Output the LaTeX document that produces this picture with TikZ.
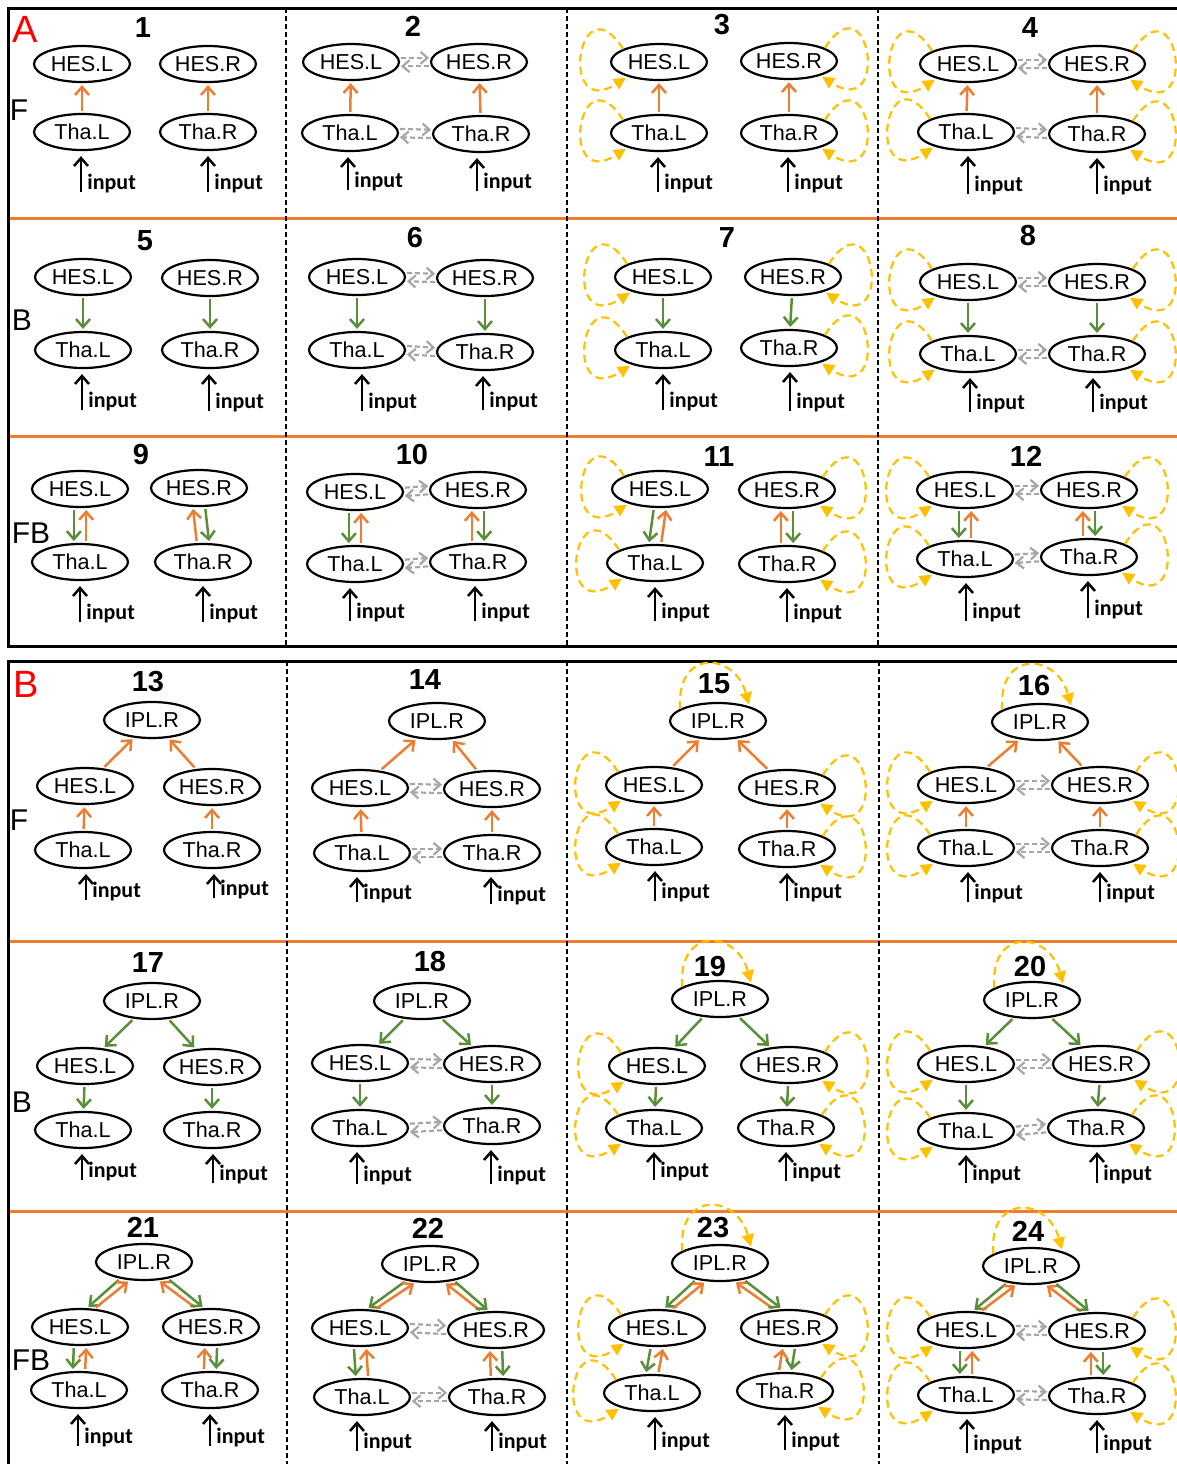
\documentclass[tikz,border=0pt]{standalone}
\usepackage{fontspec}
\setmainfont{Liberation Sans}
\newfontfamily\inputfont{Carlito}
\usepackage{tikz}
\usetikzlibrary{arrows.meta,shapes.geometric}
\definecolor{porange}{HTML}{ED7D31}
\definecolor{pgreen}{HTML}{5A8F3A}
\definecolor{pgrey}{HTML}{A6A6A6}
\definecolor{pyellow}{HTML}{FFC000}
\definecolor{pred}{HTML}{FF0000}

\begin{document}
\begin{tikzpicture}[x=0.5pt,y=-0.5pt,
  nd/.style={ellipse,draw,line width=1.1pt,minimum width=48pt,minimum height=18pt,
             inner sep=0pt,font=\fontsize{10.8}{12}\selectfont},
  num/.style={font=\fontsize{14.5}{16}\selectfont\bfseries,inner sep=0pt},
  pan/.style={text=pred,font=\fontsize{19}{22}\selectfont,inner sep=0pt},
  row/.style={font=\fontsize{15}{18}\selectfont,inner sep=0pt},
  inl/.style={anchor=base west,xshift=3pt,yshift=1.5pt,inner sep=0pt,
              font=\inputfont\bfseries\fontsize{11}{12}\selectfont},
  box/.style={line width=1.5pt},
  vsep/.style={line width=1pt,dash pattern=on 2.5pt off 1.5pt},
  hsep/.style={draw=porange,line width=1.5pt},
  ff/.style={-{Straight Barb[length=4pt,width=7pt]},draw=porange,line width=1.25pt,
             shorten >=1pt,shorten <=1pt},
  fb/.style={-{Straight Barb[length=4pt,width=7pt]},draw=pgreen,line width=1.25pt,
             shorten >=1pt,shorten <=1pt},
  inp/.style={-{Straight Barb[length=4pt,width=7pt]},line width=1.25pt,shorten >=2.5pt},
  gr/.style={-{Straight Barb[length=3.5pt,width=6pt]},draw=pgrey,line width=1.1pt,
             dash pattern=on 2.5pt off 1.5pt,shorten >=1pt,shorten <=1pt},
  yl/.style={-{Triangle[length=6pt,width=6pt]},draw=pyellow,line width=1.1pt,
             dash pattern=on 4pt off 2.5pt,shorten >=1pt}]

\useasboundingbox (0,0) rectangle (1177,1464);
\clip (0,0) rectangle (1177,1464);

% frames
\draw[hsep] (8,218) -- (1200,218);
\draw[hsep] (8,436) -- (1200,436);
\draw[hsep] (8,941) -- (1200,941);
\draw[hsep] (8,1211) -- (1200,1211);
\draw[vsep] (286,8) -- (286,646);
\draw[vsep] (567,8) -- (567,646);
\draw[vsep] (878,8) -- (878,646);
\draw[vsep] (287,661) -- (287,1470);
\draw[vsep] (567,661) -- (567,1470);
\draw[vsep] (879,661) -- (879,1470);
\draw[box] (8,8) rectangle (1200,646);
\draw[box] (8,661) rectangle (1200,1480);

\node[pan] (lA) at (25,29) {A};
\node[pan] (lB) at (26,684) {B};
\node[row] (fA) at (19,110) {F};
\node[row] (bA) at (22,320) {B};
\node[row] (fbA) at (31,533) {FB};
\node[row] (fB) at (19,820) {F};
\node[row] (bB) at (22,1102) {B};
\node[row] (fbB) at (31,1360) {FB};

% ---------------- A, F ----------------
% 1
\node[num] (n1) at (143,28) {1};
\node[nd] (hl1) at (82,64) {HES.L};
\node[nd] (hr1) at (208,64) {HES.R};
\node[nd] (tl1) at (82,132) {Tha.L};
\node[nd] (tr1) at (208,132) {Tha.R};
\coordinate (il1) at (81,192); \coordinate (ir1) at (208,192);
\node[inl] (jl1) at (il1) {input}; \node[inl] (jr1) at (ir1) {input};
\draw[inp] (il1) -- (il1 |- tl1.south); \draw[inp] (ir1) -- (ir1 |- tr1.south);
\draw[ff] (tl1) -- (hl1); \draw[ff] (tr1) -- (hr1);
% 2
\node[num] (n2) at (413,26) {2};
\node[nd] (hl2) at (351,62) {HES.L};
\node[nd] (hr2) at (479,62) {HES.R};
\node[nd] (tl2) at (350,133) {Tha.L};
\node[nd] (tr2) at (481,134) {Tha.R};
\coordinate (il2) at (348,190); \coordinate (ir2) at (477,191);
\node[inl] (jl2) at (il2) {input}; \node[inl] (jr2) at (ir2) {input};
\draw[inp] (il2) -- (il2 |- tl2.south); \draw[inp] (ir2) -- (ir2 |- tr2.south);
\draw[ff] (tl2) -- (hl2); \draw[ff] (tr2) -- (hr2);
\draw[gr] (hl2.5) -- (hr2.175); \draw[gr] (hr2.185) -- (hl2.355);
\draw[gr] (tl2.5) -- (tr2.175); \draw[gr] (tr2.185) -- (tl2.355);
% 3
\node[num] (n3) at (722,25) {3};
\node[nd] (hl3) at (659,62) {HES.L};
\node[nd] (hr3) at (789,61) {HES.R};
\node[nd] (tl3) at (659,133) {Tha.L};
\node[nd] (tr3) at (789,133) {Tha.R};
\coordinate (il3) at (658,192); \coordinate (ir3) at (788,192);
\node[inl] (jl3) at (il3) {input}; \node[inl] (jr3) at (ir3) {input};
\draw[inp] (il3) -- (il3 |- tl3.south); \draw[inp] (ir3) -- (ir3 |- tr3.south);
\draw[ff] (tl3) -- (hl3); \draw[ff] (tr3) -- (hr3);
\draw[yl] (hl3.160) .. controls +(-45,-70) and +(-70,45) .. (hl3.205);
\draw[yl] (tl3.160) .. controls +(-45,-70) and +(-70,45) .. (tl3.205);
\draw[yl] (hr3.20) .. controls +(45,-70) and +(70,45) .. (hr3.335);
\draw[yl] (tr3.20) .. controls +(45,-70) and +(70,45) .. (tr3.335);
% 4
\node[num] (n4) at (1030,28) {4};
\node[nd] (hl4) at (968,64) {HES.L};
\node[nd] (hr4) at (1097,64) {HES.R};
\node[nd] (tl4) at (966,132) {Tha.L};
\node[nd] (tr4) at (1097,134) {Tha.R};
\coordinate (il4) at (968,194); \coordinate (ir4) at (1097,194);
\node[inl] (jl4) at (il4) {input}; \node[inl] (jr4) at (ir4) {input};
\draw[inp] (il4) -- (il4 |- tl4.south); \draw[inp] (ir4) -- (ir4 |- tr4.south);
\draw[ff] (tl4) -- (hl4); \draw[ff] (tr4) -- (hr4);
\draw[gr] (hl4.5) -- (hr4.175); \draw[gr] (hr4.185) -- (hl4.355);
\draw[gr] (tl4.5) -- (tr4.175); \draw[gr] (tr4.185) -- (tl4.355);
\draw[yl] (hl4.160) .. controls +(-45,-70) and +(-70,45) .. (hl4.205);
\draw[yl] (tl4.160) .. controls +(-45,-70) and +(-70,45) .. (tl4.205);
\draw[yl] (hr4.20) .. controls +(45,-70) and +(70,45) .. (hr4.335);
\draw[yl] (tr4.20) .. controls +(45,-70) and +(70,45) .. (tr4.335);

% ---------------- A, B ----------------
% 5
\node[num] (n5) at (145,241) {5};
\node[nd] (hl5) at (83,277) {HES.L};
\node[nd] (hr5) at (210,278) {HES.R};
\node[nd] (tl5) at (83,350) {Tha.L};
\node[nd] (tr5) at (210,350) {Tha.R};
\coordinate (il5) at (82,410); \coordinate (ir5) at (209,411);
\node[inl] (jl5) at (il5) {input}; \node[inl] (jr5) at (ir5) {input};
\draw[inp] (il5) -- (il5 |- tl5.south); \draw[inp] (ir5) -- (ir5 |- tr5.south);
\draw[fb] (hl5) -- (tl5); \draw[fb] (hr5) -- (tr5);
% 6
\node[num] (n6) at (415,238) {6};
\node[nd] (hl6) at (357,277) {HES.L};
\node[nd] (hr6) at (485,278) {HES.R};
\node[nd] (tl6) at (357,350) {Tha.L};
\node[nd] (tr6) at (485,352) {Tha.R};
\coordinate (il6) at (362,411); \coordinate (ir6) at (483,410);
\node[inl] (jl6) at (il6) {input}; \node[inl] (jr6) at (ir6) {input};
\draw[inp] (il6) -- (il6 |- tl6.south); \draw[inp] (ir6) -- (ir6 |- tr6.south);
\draw[fb] (hl6) -- (tl6); \draw[fb] (hr6) -- (tr6);
\draw[gr] (hl6.5) -- (hr6.175); \draw[gr] (hr6.185) -- (hl6.355);
\draw[gr] (tl6.5) -- (tr6.175); \draw[gr] (tr6.185) -- (tl6.355);
% 7
\node[num] (n7) at (727,238) {7};
\node[nd] (hl7) at (663,277) {HES.L};
\node[nd] (hr7) at (793,277) {HES.R};
\node[nd] (tl7) at (663,350) {Tha.L};
\node[nd] (tr7) at (789,348) {Tha.R};
\coordinate (il7) at (663,410); \coordinate (ir7) at (790,411);
\node[inl] (jl7) at (il7) {input}; \node[inl] (jr7) at (ir7) {input};
\draw[inp] (il7) -- (il7 |- tl7.south); \draw[inp] (ir7) -- (ir7 |- tr7.south);
\draw[fb] (hl7) -- (tl7); \draw[fb] (hr7) -- (tr7);
\draw[yl] (hl7.160) .. controls +(-45,-70) and +(-70,45) .. (hl7.205);
\draw[yl] (tl7.160) .. controls +(-45,-70) and +(-70,45) .. (tl7.205);
\draw[yl] (hr7.20) .. controls +(45,-70) and +(70,45) .. (hr7.335);
\draw[yl] (tr7.20) .. controls +(45,-70) and +(70,45) .. (tr7.335);
% 8
\node[num] (n8) at (1028,236) {8};
\node[nd] (hl8) at (968,282) {HES.L};
\node[nd] (hr8) at (1097,282) {HES.R};
\node[nd] (tl8) at (968,354) {Tha.L};
\node[nd] (tr8) at (1097,354) {Tha.R};
\coordinate (il8) at (970,412); \coordinate (ir8) at (1093,412);
\node[inl] (jl8) at (il8) {input}; \node[inl] (jr8) at (ir8) {input};
\draw[inp] (il8) -- (il8 |- tl8.south); \draw[inp] (ir8) -- (ir8 |- tr8.south);
\draw[fb] (hl8) -- (tl8); \draw[fb] (hr8) -- (tr8);
\draw[gr] (hl8.5) -- (hr8.175); \draw[gr] (hr8.185) -- (hl8.355);
\draw[gr] (tl8.5) -- (tr8.175); \draw[gr] (tr8.185) -- (tl8.355);
\draw[yl] (hl8.160) .. controls +(-45,-70) and +(-70,45) .. (hl8.205);
\draw[yl] (tl8.160) .. controls +(-45,-70) and +(-70,45) .. (tl8.205);
\draw[yl] (hr8.20) .. controls +(45,-70) and +(70,45) .. (hr8.335);
\draw[yl] (tr8.20) .. controls +(45,-70) and +(70,45) .. (tr8.335);

% ---------------- A, FB ----------------
% 9
\node[num] (n9) at (141,455) {9};
\node[nd] (hl9) at (80,489) {HES.L};
\node[nd] (hr9) at (199,488) {HES.R};
\node[nd] (tl9) at (80,562) {Tha.L};
\node[nd] (tr9) at (203,562) {Tha.R};
\coordinate (il9) at (80,622); \coordinate (ir9) at (203,622);
\node[inl] (jl9) at (il9) {input}; \node[inl] (jr9) at (ir9) {input};
\draw[inp] (il9) -- (il9 |- tl9.south); \draw[inp] (ir9) -- (ir9 |- tr9.south);
\draw[fb] (hl9.252) -- (tl9.108); \draw[ff] (tl9.72) -- (hl9.288);
\draw[ff] (tr9.108) -- (hr9.252); \draw[fb] (hr9.288) -- (tr9.72);
% 10
\node[num] (n10) at (412,455) {10};
\node[nd] (hl10) at (355,492) {HES.L};
\node[nd] (hr10) at (478,490) {HES.R};
\node[nd] (tl10) at (355,564) {Tha.L};
\node[nd] (tr10) at (478,562) {Tha.R};
\coordinate (il10) at (350,621); \coordinate (ir10) at (475,621);
\node[inl] (jl10) at (il10) {input}; \node[inl] (jr10) at (ir10) {input};
\draw[inp] (il10) -- (il10 |- tl10.south); \draw[inp] (ir10) -- (ir10 |- tr10.south);
\draw[fb] (hl10.252) -- (tl10.108); \draw[ff] (tl10.72) -- (hl10.288);
\draw[ff] (tr10.108) -- (hr10.252); \draw[fb] (hr10.288) -- (tr10.72);
\draw[gr] (hl10.5) -- (hr10.175); \draw[gr] (hr10.185) -- (hl10.355);
\draw[gr] (tl10.5) -- (tr10.175); \draw[gr] (tr10.185) -- (tl10.355);
% 11
\node[num] (n11) at (719,457) {11};
\node[nd] (hl11) at (660,489) {HES.L};
\node[nd] (hr11) at (787,490) {HES.R};
\node[nd] (tl11) at (655,563) {Tha.L};
\node[nd] (tr11) at (787,564) {Tha.R};
\coordinate (il11) at (655,621); \coordinate (ir11) at (787,622);
\node[inl] (jl11) at (il11) {input}; \node[inl] (jr11) at (ir11) {input};
\draw[inp] (il11) -- (il11 |- tl11.south); \draw[inp] (ir11) -- (ir11 |- tr11.south);
\draw[fb] (hl11.252) -- (tl11.108); \draw[ff] (tl11.72) -- (hl11.288);
\draw[ff] (tr11.108) -- (hr11.252); \draw[fb] (hr11.288) -- (tr11.72);
\draw[yl] (hl11.160) .. controls +(-45,-70) and +(-70,45) .. (hl11.205);
\draw[yl] (tl11.160) .. controls +(-45,-70) and +(-70,45) .. (tl11.205);
\draw[yl] (hr11.20) .. controls +(45,-70) and +(70,45) .. (hr11.335);
\draw[yl] (tr11.20) .. controls +(45,-70) and +(70,45) .. (tr11.335);
% 12
\node[num] (n12) at (1026,456) {12};
\node[nd] (hl12) at (965,490) {HES.L};
\node[nd] (hr12) at (1089,490) {HES.R};
\node[nd] (tl12) at (965,559) {Tha.L};
\node[nd] (tr12) at (1089,557) {Tha.R};
\coordinate (il12) at (966,621); \coordinate (ir12) at (1088,618);
\node[inl] (jl12) at (il12) {input}; \node[inl] (jr12) at (ir12) {input};
\draw[inp] (il12) -- (il12 |- tl12.south); \draw[inp] (ir12) -- (ir12 |- tr12.south);
\draw[fb] (hl12.252) -- (tl12.108); \draw[ff] (tl12.72) -- (hl12.288);
\draw[ff] (tr12.108) -- (hr12.252); \draw[fb] (hr12.288) -- (tr12.72);
\draw[gr] (hl12.5) -- (hr12.175); \draw[gr] (hr12.185) -- (hl12.355);
\draw[gr] (tl12.5) -- (tr12.175); \draw[gr] (tr12.185) -- (tl12.355);
\draw[yl] (hl12.160) .. controls +(-45,-70) and +(-70,45) .. (hl12.205);
\draw[yl] (tl12.160) .. controls +(-45,-70) and +(-70,45) .. (tl12.205);
\draw[yl] (hr12.20) .. controls +(45,-70) and +(70,45) .. (hr12.335);
\draw[yl] (tr12.20) .. controls +(45,-70) and +(70,45) .. (tr12.335);

% ---------------- B, F ----------------
% 13
\node[num] (n13) at (148,682) {13};
\node[nd] (ip13) at (152,720) {IPL.R};
\node[nd] (hl13) at (85,786) {HES.L};
\node[nd] (hr13) at (212,787) {HES.R};
\node[nd] (tl13) at (83,850) {Tha.L};
\node[nd] (tr13) at (212,850) {Tha.R};
\coordinate (il13) at (86,900); \coordinate (ir13) at (214,898);
\node[inl] (jl13) at (il13) {input}; \node[inl] (jr13) at (ir13) {input};
\draw[inp] (il13) -- (il13 |- tl13.south); \draw[inp] (ir13) -- (ir13 |- tr13.south);
\draw[ff] (tl13) -- (hl13); \draw[ff] (tr13) -- (hr13);
\draw[ff] (hl13) -- (ip13); \draw[ff] (hr13) -- (ip13);
% 14
\node[num] (n14) at (425,680) {14};
\node[nd] (ip14) at (437,721) {IPL.R};
\node[nd] (hl14) at (360,788) {HES.L};
\node[nd] (hr14) at (492,789) {HES.R};
\node[nd] (tl14) at (362,853) {Tha.L};
\node[nd] (tr14) at (492,853) {Tha.R};
\coordinate (il14) at (357,902); \coordinate (ir14) at (491,904);
\node[inl] (jl14) at (il14) {input}; \node[inl] (jr14) at (ir14) {input};
\draw[inp] (il14) -- (il14 |- tl14.south); \draw[inp] (ir14) -- (ir14 |- tr14.south);
\draw[ff] (tl14) -- (hl14); \draw[ff] (tr14) -- (hr14);
\draw[ff] (hl14) -- (ip14); \draw[ff] (hr14) -- (ip14);
\draw[gr] (hl14.5) -- (hr14.175); \draw[gr] (hr14.185) -- (hl14.355);
\draw[gr] (tl14.5) -- (tr14.175); \draw[gr] (tr14.185) -- (tl14.355);
% 15
\node[num] (n15) at (714,684) {15};
\node[nd] (ip15) at (718,721) {IPL.R};
\node[nd] (hl15) at (654,785) {HES.L};
\node[nd] (hr15) at (787,788) {HES.R};
\node[nd] (tl15) at (654,847) {Tha.L};
\node[nd] (tr15) at (787,849) {Tha.R};
\coordinate (il15) at (655,901); \coordinate (ir15) at (787,901);
\node[inl] (jl15) at (il15) {input}; \node[inl] (jr15) at (ir15) {input};
\draw[inp] (il15) -- (il15 |- tl15.south); \draw[inp] (ir15) -- (ir15 |- tr15.south);
\draw[ff] (tl15) -- (hl15); \draw[ff] (tr15) -- (hr15);
\draw[ff] (hl15) -- (ip15); \draw[ff] (hr15) -- (ip15);
\draw[yl] (ip15.162) .. controls +(-5,-60) and +(-15,-55) .. (ip15.25);
\draw[yl] (hl15.160) .. controls +(-45,-70) and +(-70,45) .. (hl15.205);
\draw[yl] (tl15.160) .. controls +(-45,-70) and +(-70,45) .. (tl15.205);
\draw[yl] (hr15.20) .. controls +(45,-70) and +(70,45) .. (hr15.335);
\draw[yl] (tr15.20) .. controls +(45,-70) and +(70,45) .. (tr15.335);
% 16
\node[num] (n16) at (1034,686) {16};
\node[nd] (ip16) at (1040,722) {IPL.R};
\node[nd] (hl16) at (966,785) {HES.L};
\node[nd] (hr16) at (1100,785) {HES.R};
\node[nd] (tl16) at (966,848) {Tha.L};
\node[nd] (tr16) at (1100,848) {Tha.R};
\coordinate (il16) at (968,902); \coordinate (ir16) at (1100,902);
\node[inl] (jl16) at (il16) {input}; \node[inl] (jr16) at (ir16) {input};
\draw[inp] (il16) -- (il16 |- tl16.south); \draw[inp] (ir16) -- (ir16 |- tr16.south);
\draw[ff] (tl16) -- (hl16); \draw[ff] (tr16) -- (hr16);
\draw[ff] (hl16) -- (ip16); \draw[ff] (hr16) -- (ip16);
\draw[gr] (hl16.5) -- (hr16.175); \draw[gr] (hr16.185) -- (hl16.355);
\draw[gr] (tl16.5) -- (tr16.175); \draw[gr] (tr16.185) -- (tl16.355);
\draw[yl] (ip16.162) .. controls +(-5,-60) and +(-15,-55) .. (ip16.25);
\draw[yl] (hl16.160) .. controls +(-45,-70) and +(-70,45) .. (hl16.205);
\draw[yl] (tl16.160) .. controls +(-45,-70) and +(-70,45) .. (tl16.205);
\draw[yl] (hr16.20) .. controls +(45,-70) and +(70,45) .. (hr16.335);
\draw[yl] (tr16.20) .. controls +(45,-70) and +(70,45) .. (tr16.335);

% ---------------- B, B ----------------
% 17
\node[num] (n17) at (148,963) {17};
\node[nd] (ip17) at (152,1001) {IPL.R};
\node[nd] (hl17) at (85,1066) {HES.L};
\node[nd] (hr17) at (212,1067) {HES.R};
\node[nd] (tl17) at (83,1130) {Tha.L};
\node[nd] (tr17) at (212,1130) {Tha.R};
\coordinate (il17) at (82,1180); \coordinate (ir17) at (213,1183);
\node[inl] (jl17) at (il17) {input}; \node[inl] (jr17) at (ir17) {input};
\draw[inp] (il17) -- (il17 |- tl17.south); \draw[inp] (ir17) -- (ir17 |- tr17.south);
\draw[fb] (hl17) -- (tl17); \draw[fb] (hr17) -- (tr17);
\draw[fb] (ip17) -- (hl17); \draw[fb] (ip17) -- (hr17);
% 18
\node[num] (n18) at (430,962) {18};
\node[nd] (ip18) at (422,1001) {IPL.R};
\node[nd] (hl18) at (360,1063) {HES.L};
\node[nd] (hr18) at (492,1064) {HES.R};
\node[nd] (tl18) at (360,1128) {Tha.L};
\node[nd] (tr18) at (492,1126) {Tha.R};
\coordinate (il18) at (357,1184); \coordinate (ir18) at (491,1184);
\node[inl] (jl18) at (il18) {input}; \node[inl] (jr18) at (ir18) {input};
\draw[inp] (il18) -- (il18 |- tl18.south); \draw[inp] (ir18) -- (ir18 |- tr18.south);
\draw[fb] (hl18) -- (tl18); \draw[fb] (hr18) -- (tr18);
\draw[fb] (ip18) -- (hl18); \draw[fb] (ip18) -- (hr18);
\draw[gr] (hl18.5) -- (hr18.175); \draw[gr] (hr18.185) -- (hl18.355);
\draw[gr] (tl18.5) -- (tr18.175); \draw[gr] (tr18.185) -- (tl18.355);
% 19
\node[num] (n19) at (710,966) {19};
\node[nd] (ip19) at (720,999) {IPL.R};
\node[nd] (hl19) at (657,1066) {HES.L};
\node[nd] (hr19) at (789,1065) {HES.R};
\node[nd] (tl19) at (654,1128) {Tha.L};
\node[nd] (tr19) at (786,1128) {Tha.R};
\coordinate (il19) at (654,1180); \coordinate (ir19) at (786,1181);
\node[inl] (jl19) at (il19) {input}; \node[inl] (jr19) at (ir19) {input};
\draw[inp] (il19) -- (il19 |- tl19.south); \draw[inp] (ir19) -- (ir19 |- tr19.south);
\draw[fb] (hl19) -- (tl19); \draw[fb] (hr19) -- (tr19);
\draw[fb] (ip19) -- (hl19); \draw[fb] (ip19) -- (hr19);
\draw[yl] (ip19.162) .. controls +(-5,-60) and +(-15,-55) .. (ip19.25);
\draw[yl] (hl19.160) .. controls +(-45,-70) and +(-70,45) .. (hl19.205);
\draw[yl] (tl19.160) .. controls +(-45,-70) and +(-70,45) .. (tl19.205);
\draw[yl] (hr19.20) .. controls +(45,-70) and +(70,45) .. (hr19.335);
\draw[yl] (tr19.20) .. controls +(45,-70) and +(70,45) .. (tr19.335);
% 20
\node[num] (n20) at (1030,966) {20};
\node[nd] (ip20) at (1032,1000) {IPL.R};
\node[nd] (hl20) at (966,1064) {HES.L};
\node[nd] (hr20) at (1101,1064) {HES.R};
\node[nd] (tl20) at (966,1131) {Tha.L};
\node[nd] (tr20) at (1096,1128) {Tha.R};
\coordinate (il20) at (966,1183); \coordinate (ir20) at (1097,1183);
\node[inl] (jl20) at (il20) {input}; \node[inl] (jr20) at (ir20) {input};
\draw[inp] (il20) -- (il20 |- tl20.south); \draw[inp] (ir20) -- (ir20 |- tr20.south);
\draw[fb] (hl20) -- (tl20); \draw[fb] (hr20) -- (tr20);
\draw[fb] (ip20) -- (hl20); \draw[fb] (ip20) -- (hr20);
\draw[gr] (hl20.5) -- (hr20.175); \draw[gr] (hr20.185) -- (hl20.355);
\draw[gr] (tl20.5) -- (tr20.175); \draw[gr] (tr20.185) -- (tl20.355);
\draw[yl] (ip20.162) .. controls +(-5,-60) and +(-15,-55) .. (ip20.25);
\draw[yl] (hl20.160) .. controls +(-45,-70) and +(-70,45) .. (hl20.205);
\draw[yl] (tl20.160) .. controls +(-45,-70) and +(-70,45) .. (tl20.205);
\draw[yl] (hr20.20) .. controls +(45,-70) and +(70,45) .. (hr20.335);
\draw[yl] (tr20.20) .. controls +(45,-70) and +(70,45) .. (tr20.335);

% ---------------- B, FB ----------------
% 21
\node[num] (n21) at (143,1227) {21};
\node[nd] (ip21) at (144,1262) {IPL.R};
\node[nd] (hl21) at (80,1327) {HES.L};
\node[nd] (hr21) at (211,1327) {HES.R};
\node[nd] (tl21) at (79,1390) {Tha.L};
\node[nd] (tr21) at (210,1390) {Tha.R};
\coordinate (il21) at (78,1446); \coordinate (ir21) at (210,1446);
\node[inl] (jl21) at (il21) {input}; \node[inl] (jr21) at (ir21) {input};
\draw[inp] (il21) -- (il21 |- tl21.south); \draw[inp] (ir21) -- (ir21 |- tr21.south);
\draw[fb] (hl21.252) -- (tl21.108); \draw[ff] (tl21.72) -- (hl21.288);
\draw[ff] (tr21.108) -- (hr21.252); \draw[fb] (hr21.288) -- (tr21.72);
\draw[fb] (ip21.215) -- (hl21.70); \draw[ff] (hl21.52) -- (ip21.232);
\draw[ff] (hr21.128) -- (ip21.308); \draw[fb] (ip21.325) -- (hr21.110);
% 22
\node[num] (n22) at (428,1228) {22};
\node[nd] (ip22) at (430,1264) {IPL.R};
\node[nd] (hl22) at (360,1328) {HES.L};
\node[nd] (hr22) at (496,1330) {HES.R};
\node[nd] (tl22) at (362,1397) {Tha.L};
\node[nd] (tr22) at (497,1397) {Tha.R};
\coordinate (il22) at (357,1451); \coordinate (ir22) at (492,1451);
\node[inl] (jl22) at (il22) {input}; \node[inl] (jr22) at (ir22) {input};
\draw[inp] (il22) -- (il22 |- tl22.south); \draw[inp] (ir22) -- (ir22 |- tr22.south);
\draw[fb] (hl22.252) -- (tl22.108); \draw[ff] (tl22.72) -- (hl22.288);
\draw[ff] (tr22.108) -- (hr22.252); \draw[fb] (hr22.288) -- (tr22.72);
\draw[fb] (ip22.215) -- (hl22.70); \draw[ff] (hl22.52) -- (ip22.232);
\draw[ff] (hr22.128) -- (ip22.308); \draw[fb] (ip22.325) -- (hr22.110);
\draw[gr] (hl22.5) -- (hr22.175); \draw[gr] (hr22.185) -- (hl22.355);
\draw[gr] (tl22.5) -- (tr22.175); \draw[gr] (tr22.185) -- (tl22.355);
% 23
\node[num] (n23) at (713,1228) {23};
\node[nd] (ip23) at (720,1263) {IPL.R};
\node[nd] (hl23) at (657,1328) {HES.L};
\node[nd] (hr23) at (789,1328) {HES.R};
\node[nd] (tl23) at (652,1393) {Tha.L};
\node[nd] (tr23) at (785,1391) {Tha.R};
\coordinate (il23) at (655,1450); \coordinate (ir23) at (785,1450);
\node[inl] (jl23) at (il23) {input}; \node[inl] (jr23) at (ir23) {input};
\draw[inp] (il23) -- (il23 |- tl23.south); \draw[inp] (ir23) -- (ir23 |- tr23.south);
\draw[fb] (hl23.252) -- (tl23.108); \draw[ff] (tl23.72) -- (hl23.288);
\draw[ff] (tr23.108) -- (hr23.252); \draw[fb] (hr23.288) -- (tr23.72);
\draw[fb] (ip23.215) -- (hl23.70); \draw[ff] (hl23.52) -- (ip23.232);
\draw[ff] (hr23.128) -- (ip23.308); \draw[fb] (ip23.325) -- (hr23.110);
\draw[yl] (ip23.162) .. controls +(-5,-60) and +(-15,-55) .. (ip23.25);
\draw[yl] (hl23.160) .. controls +(-45,-70) and +(-70,45) .. (hl23.205);
\draw[yl] (tl23.160) .. controls +(-45,-70) and +(-70,45) .. (tl23.205);
\draw[yl] (hr23.20) .. controls +(45,-70) and +(70,45) .. (hr23.335);
\draw[yl] (tr23.20) .. controls +(45,-70) and +(70,45) .. (tr23.335);
% 24
\node[num] (n24) at (1028,1231) {24};
\node[nd] (ip24) at (1031,1266) {IPL.R};
\node[nd] (hl24) at (966,1330) {HES.L};
\node[nd] (hr24) at (1097,1331) {HES.R};
\node[nd] (tl24) at (966,1395) {Tha.L};
\node[nd] (tr24) at (1097,1396) {Tha.R};
\coordinate (il24) at (967,1453); \coordinate (ir24) at (1097,1453);
\node[inl] (jl24) at (il24) {input}; \node[inl] (jr24) at (ir24) {input};
\draw[inp] (il24) -- (il24 |- tl24.south); \draw[inp] (ir24) -- (ir24 |- tr24.south);
\draw[fb] (hl24.252) -- (tl24.108); \draw[ff] (tl24.72) -- (hl24.288);
\draw[ff] (tr24.108) -- (hr24.252); \draw[fb] (hr24.288) -- (tr24.72);
\draw[fb] (ip24.215) -- (hl24.70); \draw[ff] (hl24.52) -- (ip24.232);
\draw[ff] (hr24.128) -- (ip24.308); \draw[fb] (ip24.325) -- (hr24.110);
\draw[gr] (hl24.5) -- (hr24.175); \draw[gr] (hr24.185) -- (hl24.355);
\draw[gr] (tl24.5) -- (tr24.175); \draw[gr] (tr24.185) -- (tl24.355);
\draw[yl] (ip24.162) .. controls +(-5,-60) and +(-15,-55) .. (ip24.25);
\draw[yl] (hl24.160) .. controls +(-45,-70) and +(-70,45) .. (hl24.205);
\draw[yl] (tl24.160) .. controls +(-45,-70) and +(-70,45) .. (tl24.205);
\draw[yl] (hr24.20) .. controls +(45,-70) and +(70,45) .. (hr24.335);
\draw[yl] (tr24.20) .. controls +(45,-70) and +(70,45) .. (tr24.335);
\end{tikzpicture}
\end{document}
